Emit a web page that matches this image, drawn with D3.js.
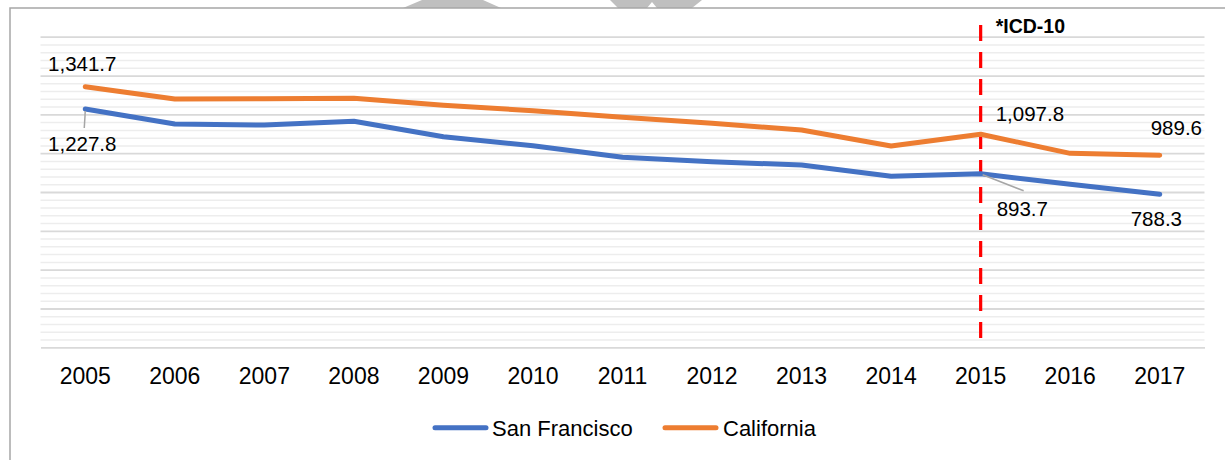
<!DOCTYPE html>
<html><head><meta charset="utf-8">
<script src="https://cdn.jsdelivr.net/npm/d3@7"></script>
<style>
html,body{margin:0;padding:0;background:#fff;}
svg{display:block;}
text{font-family:"Liberation Sans",Arial,sans-serif;fill:#000;}
</style></head>
<body>
<svg id="chart" width="1225" height="460"></svg>
<script>
const years = ["2005","2006","2007","2008","2009","2010","2011","2012","2013","2014","2015","2016","2017"];
const sanFrancisco = [1227.8,1150,1145,1164,1085,1038,979,956,939,881,893.7,840,788.3];
const california   = [1341.7,1279,1281,1283,1247,1219,1185,1154,1119,1037,1097.8,999,989.6];
const seriesNames = ["San Francisco","California"];
const icdYear = "2015";
const icdLabel = "*ICD-10";
const yMax = 1600, yMajor = 200, yMinor = 40;

const svg = d3.select("#chart");
const W = 1225, H = 460;
const plot = {left:40.5, right:1204.5, top:36.7, bottom:347.3};
const colors = {"San Francisco":"#4472C4","California":"#ED7D31"};

const x = d3.scaleBand().domain(years).range([plot.left, plot.right]).padding(0);
const xc = d => x(d) + x.bandwidth()/2;
const y = d3.scaleLinear().domain([0, yMax]).range([plot.bottom, plot.top]);

// watermark remnants at top
svg.append("path").attr("d","M422,0 L483,0 L501,8 L403,8 Z").attr("fill","#BFBFBF");
svg.append("path").attr("d","M610,0 L702,0 L692,8 L657,8 L652,2 L647,8 L618,8 Z").attr("fill","#BFBFBF");
// white chart area + frame
svg.append("rect").attr("x",10).attr("y",8).attr("width",W).attr("height",H).attr("fill","#fff");
svg.append("path").attr("d",`M10,${H} L10,8 L${W},8`).attr("fill","none").attr("stroke","#A6A6A6").attr("stroke-width",1.5);

// minor gridlines
const minorVals = d3.range(0, yMax+1, yMinor).filter(v => v % yMajor !== 0);
svg.append("g").attr("transform",`translate(${plot.left},0)`)
  .call(d3.axisLeft(y).tickValues(minorVals).tickSize(-(plot.right-plot.left)).tickFormat(""))
  .call(g => g.select(".domain").remove())
  .call(g => g.selectAll("line").attr("stroke","#EDEDED").attr("stroke-width",1.5));
// major gridlines
svg.append("g").attr("transform",`translate(${plot.left},0)`)
  .call(d3.axisLeft(y).tickValues(d3.range(yMajor, yMax+1, yMajor)).tickSize(-(plot.right-plot.left)).tickFormat(""))
  .call(g => g.select(".domain").remove())
  .call(g => g.selectAll("line").attr("stroke","#D9D9D9").attr("stroke-width",1.8));

// x axis
const xAxis = svg.append("g").attr("transform",`translate(0,${plot.bottom})`)
  .call(d3.axisBottom(x).tickSize(0).tickPadding(37));
xAxis.select(".domain").attr("stroke","#D9D9D9").attr("stroke-width",1.8);
xAxis.selectAll("text").style("font-family","'Liberation Sans',Arial,sans-serif").style("font-size","23px").attr("fill","#000").attr("dy","0");

// red ICD line
svg.append("line").attr("x1",xc(icdYear)).attr("x2",xc(icdYear)).attr("y1",25).attr("y2",plot.bottom+1)
  .attr("stroke","#FF0000").attr("stroke-width",3.2).attr("stroke-dasharray","16,11");
svg.append("text").attr("x",xc(icdYear)+15).attr("y",33).attr("font-weight","bold").attr("font-size","19.5px").text(icdLabel);

// lines
const line = d3.line().x((d,i) => xc(years[i])).y(d => y(d));
const data = {"San Francisco":sanFrancisco,"California":california};
seriesNames.slice().reverse().forEach(name => {
  svg.append("path").datum(data[name]).attr("d",line).attr("fill","none")
    .attr("stroke",colors[name]).attr("stroke-width",5).attr("stroke-linecap","round").attr("stroke-linejoin","round");
});

// data labels: [series, yearIndex, dx, dy(baseline offset), anchor, leader]
const labelSpecs = [
  ["California",0,-3,-16,"middle",null],
  ["San Francisco",0,-3,42,"middle",[0,2,-1,19]],
  ["California",10,15,-13,"start",null],
  ["San Francisco",10,16,42,"start",[2,1,43,17]],
  ["California",12,-9,-20,"start",null],
  ["San Francisco",12,-29,32,"start",null]
];
const fmt = d3.format(",.1f");
labelSpecs.forEach(([s,i,dx,dy,anchor,leader]) => {
  const px = xc(years[i]), py = y(data[s][i]);
  if (leader) {
    svg.append("line").attr("x1",px+leader[0]).attr("y1",py+leader[1]).attr("x2",px+leader[2]).attr("y2",py+leader[3])
      .attr("stroke","#A6A6A6").attr("stroke-width",1.5);
  }
  svg.append("text").attr("x",px+dx).attr("y",py+dy).attr("text-anchor",anchor).attr("font-size","20.5px").text(fmt(data[s][i]));
});

// legend
const legendItems = [{name:"San Francisco",x0:433,tx:492},{name:"California",x0:663,tx:723}];
legendItems.forEach(it => {
  svg.append("line").attr("x1",it.x0+2).attr("x2",it.x0+53).attr("y1",427.7).attr("y2",427.7)
    .attr("stroke",colors[it.name]).attr("stroke-width",5).attr("stroke-linecap","round");
  svg.append("text").attr("x",it.tx).attr("y",436).attr("font-size","22px").text(it.name);
});
</script>
</body></html>
